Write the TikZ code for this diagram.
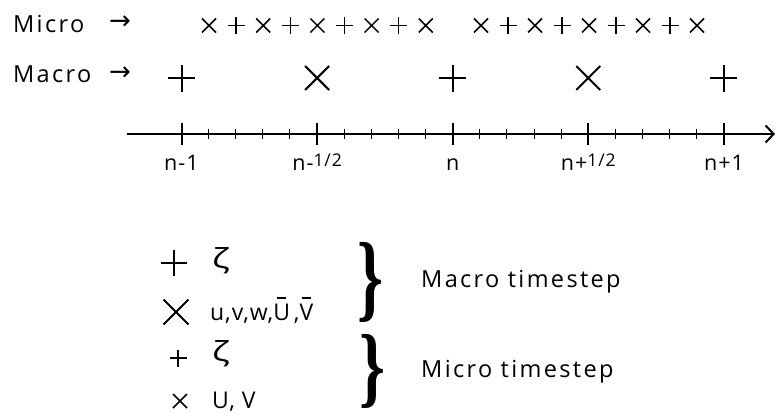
\documentclass[tikz,border=0pt]{standalone}
\usepackage{fontspec}
\setmainfont{Open Sans}
\newfontfamily\arrowfont{DejaVu Sans}
\newfontfamily\bracefont{Liberation Serif}
\usetikzlibrary{arrows.meta}
\newcommand\barredletter[1]{\ooalign{#1\cr\hidewidth\rule[21pt]{9pt}{1.6pt}\hidewidth\cr}}
\tikzset{
  txt/.style={inner sep=0pt, font=\fontsize{23.5}{27}\selectfont\addfontfeature{LetterSpace=10}},
  ticklbl/.style={inner sep=0pt, font=\fontsize{21.5}{24}\selectfont\addfontfeature{LetterSpace=5}},
  small/.style={inner sep=0pt, font=\fontsize{23}{26}\selectfont\addfontfeature{LetterSpace=4}},
  zeta/.style={inner sep=0pt, anchor=center, font=\fontsize{23}{26}\selectfont},
  arr/.style={inner sep=0pt, anchor=center, font=\arrowfont\fontsize{26}{28}\selectfont},
  pics/plusmark/.style n args={2}{code={\draw[line width=#2] (-#1,0) -- (#1,0) (0,-#1) -- (0,#1);}},
  pics/crossmark/.style n args={2}{code={\draw[line width=#2] (-#1,-#1) -- (#1,#1) (-#1,#1) -- (#1,-#1);}},
}
\begin{document}
\begin{tikzpicture}[x=1pt,y=-1pt]
\useasboundingbox (0,0) rectangle (776,415);
% row labels
\node[txt, anchor=base west] (micro) at (13,32) {Micro};
\node[arr] (marrow1) at (120,23) {→};
\node[txt, anchor=base west] (macro) at (13,82) {Macro};
\node[arr] (marrow2) at (120,74) {→};
% micro row
\foreach \k in {0,...,8}{
  \pgfmathsetmacro\xa{209+27.1*\k}
  \pgfmathsetmacro\xb{481+27*\k}
  \ifodd\k
    \pic at (\xa,25.5) {plusmark={8.5}{1.5}};
    \pic at (\xb,25.5) {plusmark={8.5}{1.5}};
  \else
    \pic at (\xa,25.5) {crossmark={7}{1.5}};
    \pic at (\xb,25.5) {crossmark={7}{1.5}};
  \fi
}
% macro row
\foreach \i in {0,...,4}{
  \pgfmathsetmacro\xm{181.5+135.6*\i}
  \ifodd\i
    \pic at (\xm,78) {crossmark={12}{2}};
  \else
    \pic at (\xm,78) {plusmark={13.5}{2}};
  \fi
}
% axis
\coordinate (axL) at (127,134);
\coordinate (axR) at (775,134);
\draw[line width=2pt, -{Straight Barb[length=8pt,width=17pt,line width=2pt]}] (axL) -- (axR);
\foreach \i in {0,...,4}{
  \pgfmathsetmacro\xm{181.5+135.6*\i}
  \draw[line width=2pt] (\xm,123.3) -- (\xm,144.7);
}
\foreach \i in {0,...,3}{
  \foreach \j in {1,...,4}{
    \pgfmathsetmacro\xs{181.5+135.6*\i+27.12*\j}
    \draw[line width=1pt] (\xs,128.7) -- (\xs,139.3);
  }
}
\node[ticklbl, anchor=base] (l0) at (181.5,170) {n-1};
\node[ticklbl, anchor=base] (l1) at (317.1,170) {n-\raisebox{4pt}{\fontsize{17.5}{20}\selectfont 1/2}};
\node[ticklbl, anchor=base] (l2) at (452.7,170) {n};
\node[ticklbl, anchor=base] (l3) at (588.3,170) {n+\raisebox{4pt}{\fontsize{17.5}{20}\selectfont 1/2}};
\node[ticklbl, anchor=base] (l4) at (724,170) {n+1};
% legend
\pic at (174,263) {plusmark={13}{2}};
\node[zeta] (z1) at (221,261) {\scalebox{1.6}[1.2]{ζ}};
\pic at (176,312) {crossmark={12.5}{2}};
\node[small, anchor=base west] (vars1) at (210,320) {u,v,w,\barredletter{U}\,,\barredletter{V}};
\pic at (178,358) {plusmark={8.5}{1.5}};
\node[zeta] (z2) at (221,354) {\scalebox{1.6}[1.2]{ζ}};
\pic at (180,401) {crossmark={7}{1.5}};
\node[small, anchor=base west] (vars2) at (212,408) {U, V};
\node[inner sep=0pt, anchor=west] (br1) at (357,282.5) {\resizebox*{26pt}{80pt}{\bracefont\bfseries\}}};
\node[inner sep=0pt, anchor=west] (br2) at (359,371.5) {\resizebox*{26pt}{74pt}{\bracefont\bfseries\}}};
\node[txt, anchor=west] (mac) at (421,281.5) {Macro timestep};
\node[txt, anchor=west] (mic) at (421,372) {Micro timestep};
\end{tikzpicture}
\end{document}
